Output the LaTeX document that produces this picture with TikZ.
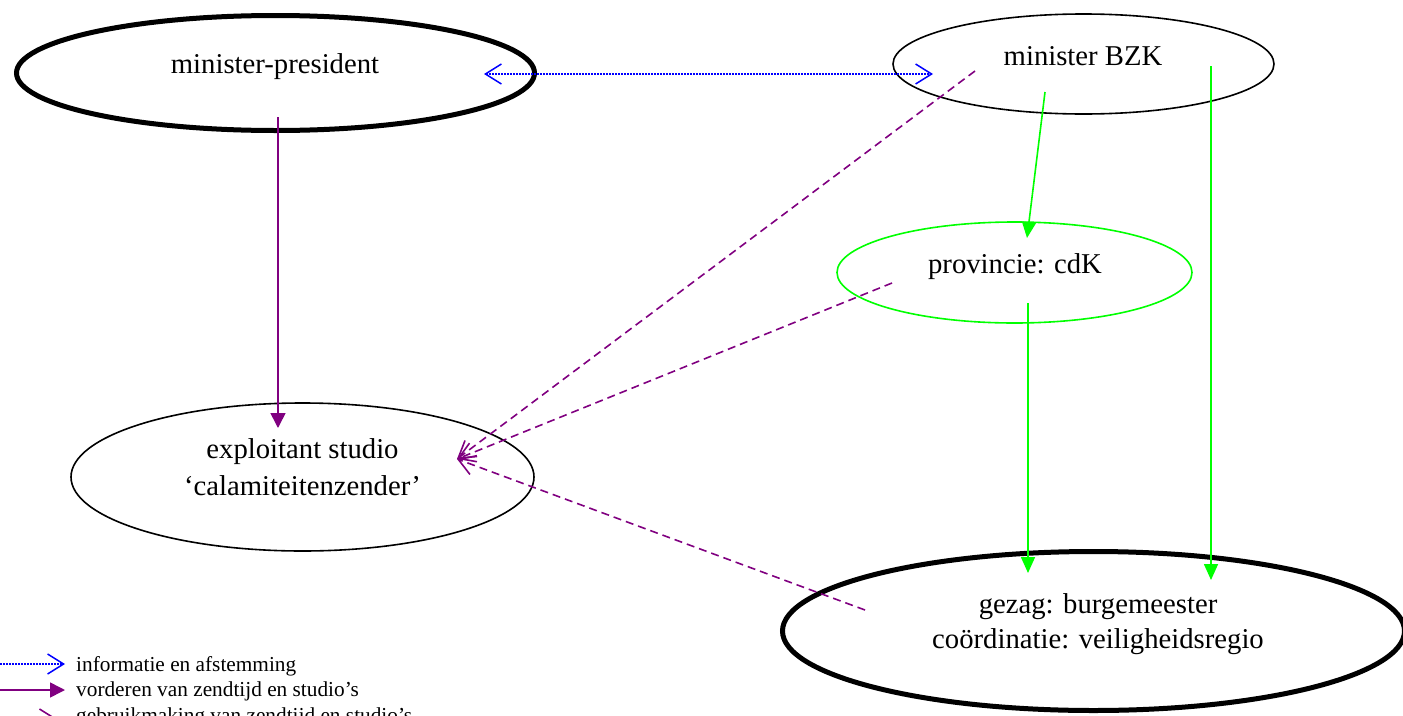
\documentclass[tikz,border=0pt]{standalone}
\usepackage{fontspec}
\setmainfont{Liberation Serif}
\usetikzlibrary{arrows.meta,shapes.geometric}
\definecolor{vpurple}{RGB}{128,0,128}
\definecolor{vblue}{RGB}{0,0,255}
\definecolor{vgreen}{RGB}{0,255,0}
\tikzset{
  thickell/.style={ellipse,draw=black,line width=5pt,inner sep=0pt},
  thinell/.style={ellipse,draw=black,line width=1.6pt,inner sep=0pt},
  greenell/.style={ellipse,draw=vgreen,line width=1.6pt,inner sep=0pt},
  lbl/.style={font=\fontsize{28.7}{35}\selectfont,anchor=base,inner sep=0pt},
  leg/.style={font=\fontsize{21.3}{25}\selectfont,anchor=base west,inner sep=0pt},
  chev/.tip={Straight Barb[length=16pt,width=20pt]},
  info/.style={vblue,line width=1.5pt,dash pattern=on 1.5pt off 1.5pt,{chev}-{chev}},
  infoleg/.style={vblue,line width=1.5pt,dash pattern=on 1.5pt off 1.5pt,-{chev}},
  vord/.style={vpurple,line width=1.6pt,-{Triangle[length=15pt,width=15pt]}},
  gebr/.style={vpurple,line width=1.6pt,dash pattern=on 8pt off 5pt,-{chev}},
  gezagarrow/.style={vgreen,line width=1.6pt,-{Triangle[length=16pt,width=14pt]}},
}
\begin{document}
\begin{tikzpicture}[x=1pt,y=-1pt]
\useasboundingbox (0,0) rectangle (1403,715);
\clip (0,0) rectangle (1403,715);
% ellipses
\node[thickell,minimum width=518pt,minimum height=115pt] (mp) at (275.5,73) {};
\node[thinell,minimum width=381pt,minimum height=100pt] (bzk) at (1083.5,64) {};
\node[greenell,minimum width=355pt,minimum height=101pt] (prov) at (1014.5,272.5) {};
\node[thinell,minimum width=463pt,minimum height=148pt] (expl) at (302.5,477) {};
\node[thickell,minimum width=622pt,minimum height=159pt] (gez) at (1093.5,631) {};
% texts
\node[lbl] (mpt) at (275,73) {minister-president};
\node[lbl] (bzkt) at (1083,65) {minister BZK};
\node[lbl] (provt) at (1015,273) {provincie: cdK};
\node[lbl] (explt1) at (302.5,458) {exploitant studio};
\node[lbl] (explt2) at (302.5,495) {‘calamiteitenzender’};
\node[lbl] (gezt1) at (1098,613) {gezag: burgemeester};
\node[lbl] (gezt2) at (1098,648) {coördinatie: veiligheidsregio};
% connector end points
\coordinate (mpInfo) at (484,74);
\coordinate (bzkInfo) at (933,74);
\coordinate (mpOut) at (278,117);
\coordinate (explIn) at (278,428);
\coordinate (explTip) at (457,459);
\coordinate (bzkDash) at (975,71);
\coordinate (provDash) at (892,283);
\coordinate (gezDash) at (865,610);
\coordinate (bzkG1) at (1045,92);
\coordinate (provIn) at (1027,238);
\coordinate (bzkG2) at (1211,66);
\coordinate (gezIn2) at (1211,580);
\coordinate (provOut) at (1028,303);
\coordinate (gezIn1) at (1028,573);
% connectors
\draw[info] (mpInfo) -- (bzkInfo);
\draw[vord] (mpOut) -- (explIn);
\draw[gebr] (bzkDash) -- (explTip);
\draw[gebr] (provDash) -- (explTip);
\draw[gebr] (gezDash) -- (explTip);
\draw[gezagarrow] (bzkG1) -- (provIn);
\draw[gezagarrow] (bzkG2) -- (gezIn2);
\draw[gezagarrow] (provOut) -- (gezIn1);
% legend
\coordinate (l1a) at (0,664);
\coordinate (l1b) at (65,664);
\coordinate (l2a) at (0,690);
\coordinate (l2b) at (65,690);
\coordinate (l3a) at (0,719);
\coordinate (l3b) at (57,719);
\draw[infoleg] (l1a) -- (l1b);
\draw[vord] (l2a) -- (l2b);
\draw[gebr] (l3a) -- (l3b);
\node[leg] (leg1) at (76,671) {informatie en afstemming};
\node[leg] (leg2) at (76,696) {vorderen van zendtijd en studio’s};
\node[leg] (leg3) at (76,722) {gebruikmaking van zendtijd en studio’s};
\end{tikzpicture}
\end{document}
